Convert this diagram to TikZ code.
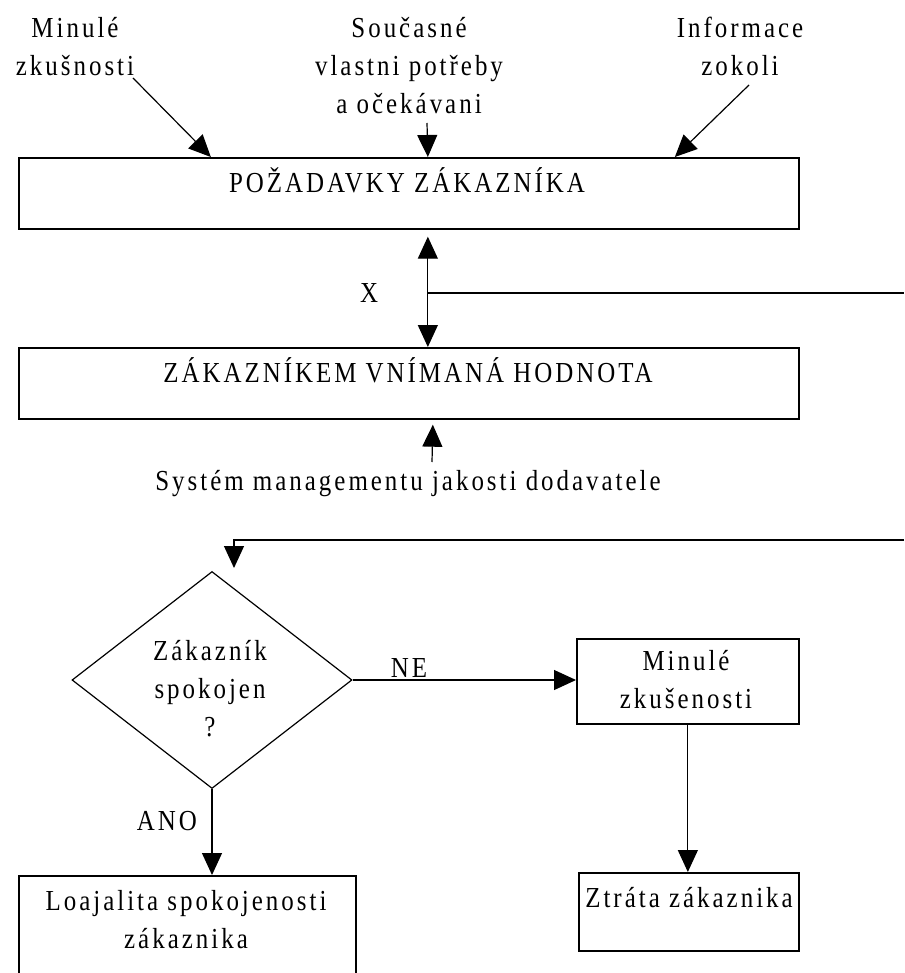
\documentclass[tikz,border=0pt]{standalone}
\usepackage{fontspec}
\setmainfont{Liberation Serif}[LetterSpace=12]
\usetikzlibrary{arrows.meta,shapes.geometric}

% narrow, spaced-out lettering
\newcommand{\narrow}[1]{\scalebox{0.86}[1]{#1}}
% centred lines whose baseline is that of the first line
\newcommand{\toplines}[1]{\narrow{\begin{tabular}[t]{@{}c@{}}#1\end{tabular}}}

\begin{document}
\begin{tikzpicture}[x=1pt,y=-1pt,
  every node/.style={font=\fontsize{29}{38}\selectfont, inner sep=0pt, text=black},
  box/.style={draw, line width=1.7pt, anchor=north west, inner sep=0pt},
  decision/.style={draw, diamond, line width=1.2pt, inner sep=0pt, minimum width=280, minimum height=217},
  lbl/.style={anchor=base},
  tip/.tip={Triangle[length=22pt,width=20pt]},
  arr/.style={line width=1.2pt, -tip},
  darr/.style={line width=1.2pt, tip-tip},
  ln/.style={line width=1.5pt}]
\useasboundingbox (0,0) rectangle (904,973);
\clip (0,0) rectangle (904,973);

% inputs
\node[lbl] (past0) at (75,38) {\toplines{Minulé\\zkušnosti}};
\node[lbl] (needs) at (409,38) {\toplines{Současné\\vlastni potřeby\\a očekávani}};
\node[lbl] (info) at (740,38) {\toplines{Informace\\zokoli}};

% main boxes
\node[box, minimum width=780, minimum height=71] (req) at (18,157) {};
\node[lbl] (reqtext) at (407,193) {\narrow{POŽADAVKY ZÁKAZNÍKA}};
\node[box, minimum width=780, minimum height=71] (val) at (18,347) {};
\node[lbl] (valtext) at (408,382) {\narrow{ZÁKAZNÍKEM VNÍMANÁ HODNOTA}};
\node[lbl] (sys) at (408,490) {\narrow{Systém managementu jakosti dodavatele}};
\node[lbl] (xlab) at (369,302) {\narrow{X}};

% decision part
\node[decision] (dec) at (212,680) {};
\node[lbl] (dectext) at (210,660) {\toplines{Zákazník\\spokojen\\?}};
\node[box, minimum width=222, minimum height=85] (past) at (576,638) {};
\node[lbl] (pasttext) at (686,670) {\toplines{Minulé\\zkušenosti}};
\node[box, minimum width=220, minimum height=78] (loss) at (578,872) {};
\node[lbl] (losstext) at (689,907) {\narrow{Ztráta zákaznika}};
\node[box, minimum width=337, minimum height=130] (loy) at (18,875) {};
\node[lbl] (loytext) at (186,910) {\toplines{Loajalita spokojenosti\\zákaznika}};
\node[lbl] (ne) at (409,677) {\narrow{NE}};
\node[lbl] (ano) at (167,830) {\narrow{ANO}};

% free ends of connectors
\coordinate (t1) at (133,78);
\coordinate (t2) at (427,123);
\coordinate (t3) at (749,85);
\coordinate (sysup) at (432,462);
\coordinate (xj) at (427,293);
\coordinate (xr) at (904,293);
\coordinate (fbr) at (904,540);
\coordinate (fbd) at (234,568);

% connectors
\draw[arr] (t1) -- ([xshift=-198pt]req.north);
\draw[arr] (t2) -- ([xshift=19pt]req.north);
\draw[arr] (t3) -- ([xshift=266pt]req.north);
\draw[darr] ([xshift=19pt,yshift=-7pt]req.south) -- ([xshift=19pt]val.north);
\draw[ln] (xj) -- (xr);
\draw[arr] (sysup) -- ([xshift=24pt,yshift=-5pt]val.south);
\draw[arr] (fbr) -| (fbd);
\draw[arr] (dec.east) -- (past.west |- dec.east);
\draw[arr] (dec.south) -- (dec.south |- loy.north);
\draw[arr] (past.south) -- (past.south |- loss.north);
\end{tikzpicture}
\end{document}
